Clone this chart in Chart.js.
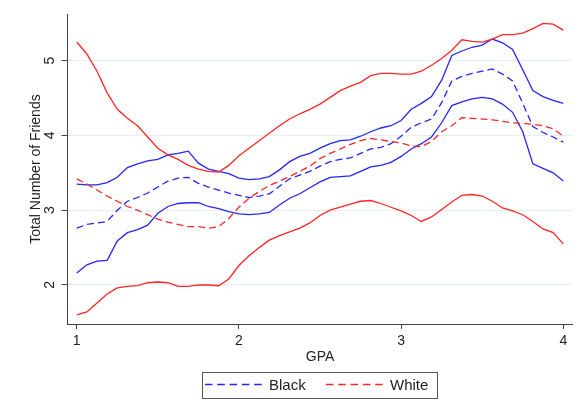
<!DOCTYPE html>
<html>
<head>
<meta charset="utf-8">
<script src="https://cdn.jsdelivr.net/npm/chart.js@4.4.1/dist/chart.umd.min.js"></script>
<style>
html,body{margin:0;padding:0;background:#fff;}
#c{display:block;}
</style>
</head>
<body>
<canvas id="c" width="582" height="416"></canvas>
<script>
// ---- data ----
const gpa = [1, 1.0625, 1.125, 1.1875, 1.25, 1.3125, 1.375, 1.4375, 1.5, 1.5625, 1.625, 1.6875, 1.75, 1.8125, 1.875, 1.9375,
  2, 2.0625, 2.125, 2.1875, 2.25, 2.3125, 2.375, 2.4375, 2.5, 2.5625, 2.625, 2.6875, 2.75, 2.8125, 2.875, 2.9375,
  3, 3.0625, 3.125, 3.1875, 3.25, 3.3125, 3.375, 3.4375, 3.5, 3.5625, 3.625, 3.6875, 3.75, 3.8125, 3.875, 3.9375, 4];

const blackMean = [2.76, 2.81, 2.83, 2.85, 3.00, 3.12, 3.17, 3.23, 3.31, 3.39, 3.43, 3.44, 3.36, 3.31, 3.27, 3.23,
  3.20, 3.17, 3.19, 3.22, 3.32, 3.42, 3.47, 3.52, 3.59, 3.65, 3.68, 3.70, 3.76, 3.82, 3.84, 3.89,
  3.99, 4.11, 4.17, 4.22, 4.44, 4.73, 4.79, 4.83, 4.86, 4.89, 4.82, 4.73, 4.43, 4.12, 4.04, 3.98, 3.91];
const blackUpper = [3.35, 3.34, 3.34, 3.37, 3.44, 3.57, 3.62, 3.66, 3.68, 3.74, 3.76, 3.79, 3.63, 3.55, 3.52, 3.49,
  3.43, 3.41, 3.42, 3.45, 3.54, 3.65, 3.72, 3.76, 3.83, 3.89, 3.93, 3.94, 3.99, 4.05, 4.10, 4.13,
  4.20, 4.35, 4.43, 4.52, 4.74, 5.07, 5.13, 5.18, 5.21, 5.29, 5.24, 5.15, 4.88, 4.60, 4.52, 4.47, 4.43];
const blackLower = [2.16, 2.27, 2.32, 2.33, 2.59, 2.70, 2.74, 2.80, 2.96, 3.05, 3.09, 3.10, 3.10, 3.05, 3.02, 2.98,
  2.95, 2.94, 2.95, 2.97, 3.07, 3.16, 3.22, 3.30, 3.38, 3.44, 3.45, 3.46, 3.52, 3.58, 3.60, 3.64,
  3.72, 3.82, 3.89, 3.98, 4.17, 4.40, 4.45, 4.49, 4.51, 4.49, 4.42, 4.31, 4.05, 3.62, 3.56, 3.50, 3.39];

const whiteMean = [3.42, 3.35, 3.27, 3.19, 3.12, 3.05, 3.00, 2.94, 2.88, 2.84, 2.81, 2.78, 2.78, 2.76, 2.78, 2.89,
  3.04, 3.16, 3.25, 3.33, 3.39, 3.45, 3.52, 3.59, 3.69, 3.76, 3.82, 3.88, 3.93, 3.96, 3.94, 3.92,
  3.90, 3.86, 3.85, 3.92, 4.05, 4.13, 4.24, 4.23, 4.22, 4.21, 4.19, 4.17, 4.16, 4.15, 4.13, 4.09, 3.99];
const whiteUpper = [5.25, 5.09, 4.86, 4.57, 4.35, 4.23, 4.13, 3.98, 3.83, 3.74, 3.68, 3.60, 3.55, 3.52, 3.51, 3.60,
  3.73, 3.83, 3.93, 4.03, 4.13, 4.22, 4.29, 4.35, 4.42, 4.51, 4.60, 4.66, 4.71, 4.80, 4.83, 4.83,
  4.82, 4.82, 4.86, 4.94, 5.03, 5.14, 5.28, 5.26, 5.25, 5.29, 5.35, 5.35, 5.37, 5.43, 5.50, 5.49, 5.41];
const whiteLower = [1.60, 1.64, 1.76, 1.88, 1.96, 1.98, 1.99, 2.03, 2.04, 2.03, 1.98, 1.98, 2.00, 2.00, 1.99, 2.08,
  2.26, 2.39, 2.50, 2.60, 2.66, 2.71, 2.76, 2.83, 2.93, 3.00, 3.04, 3.08, 3.12, 3.13, 3.09, 3.04,
  2.99, 2.93, 2.85, 2.91, 3.01, 3.11, 3.20, 3.21, 3.19, 3.12, 3.03, 2.99, 2.94, 2.85, 2.75, 2.70, 2.55];

const xTicks = [1, 2, 3, 4];
const yTicks = [2, 3, 4, 5];
const legendLabels = ["Black", "White"];
const xTitle = "GPA";
const yTitle = "Total Number of Friends";

// ---- styling ----
const BLUE = '#2525ff';
const RED = '#ff2525';
const FONT = '"Liberation Sans", Arial, sans-serif';
const pts = arr => gpa.map((x, i) => ({x: x, y: arr[i]}));
const ds = (arr, color, dashed) => ({
  data: pts(arr), borderColor: color, borderWidth: 1.3, pointRadius: 0,
  tension: 0, fill: false, borderDash: dashed ? [7, 4] : []
});

const customDraw = {
  id: 'customDraw',
  afterDraw(chart) {
    const ctx = chart.ctx;
    const ys = chart.scales.y;
    ctx.save();
    ctx.fillStyle = '#222';
    ctx.font = '14px ' + FONT;
    ctx.textAlign = 'center';
    ctx.textBaseline = 'middle';
    yTicks.forEach(v => {
      ctx.save();
      ctx.translate(50, ys.getPixelForValue(v));
      ctx.rotate(-Math.PI / 2);
      ctx.fillText(String(v), 0, 0);
      ctx.restore();
    });
    // legend box
    ctx.strokeStyle = '#555';
    ctx.lineWidth = 1;
    ctx.strokeRect(202.5, 372.5, 235, 26);
    const ly = 384.5;
    const entries = [
      {label: legendLabels[0], color: BLUE, x0: 205, x1: 262, tx: 269},
      {label: legendLabels[1], color: RED, x0: 326, x1: 383, tx: 390}
    ];
    entries.forEach(e => {
      ctx.beginPath();
      ctx.setLineDash([7.5, 4.8]);
      ctx.strokeStyle = e.color;
      ctx.lineWidth = 1.3;
      ctx.moveTo(e.x0, ly);
      ctx.lineTo(e.x1, ly);
      ctx.stroke();
      ctx.setLineDash([]);
      ctx.fillStyle = '#222';
      ctx.font = '15px ' + FONT;
      ctx.textAlign = 'left';
      ctx.textBaseline = 'middle';
      ctx.fillText(e.label, e.tx, 385.5);
    });
    ctx.restore();
  }
};

new Chart(document.getElementById('c'), {
  type: 'line',
  data: {
    datasets: [
      ds(whiteUpper, RED, false),
      ds(whiteLower, RED, false),
      ds(whiteMean, RED, true),
      ds(blackUpper, BLUE, false),
      ds(blackLower, BLUE, false),
      ds(blackMean, BLUE, true)
    ]
  },
  options: {
    responsive: false,
    animation: false,
    devicePixelRatio: 1,
    layout: {padding: {left: 0, top: 14, right: 9.3, bottom: 47}},
    plugins: {legend: {display: false}, tooltip: {enabled: false}},
    scales: {
      x: {
        type: 'linear', min: 0.943, max: 4.058,
        afterBuildTicks: s => { s.ticks = xTicks.map(v => ({value: v})); },
        afterFit: s => { s.height = 45; },
        grid: {drawOnChartArea: false, drawTicks: true, tickLength: 5, tickColor: '#444'},
        border: {color: '#444', width: 1},
        ticks: {color: '#222', font: {family: FONT, size: 14}, padding: 4, maxRotation: 0, autoSkip: false},
        title: {display: true, text: xTitle, color: '#222', font: {family: FONT, size: 14}, padding: {top: 0, bottom: 3.6}}
      },
      y: {
        type: 'linear', min: 1.478, max: 5.625,
        afterBuildTicks: s => { s.ticks = yTicks.map(v => ({value: v})); },
        afterFit: s => { s.width = 67.5; },
        grid: {color: '#e8eff1', lineWidth: 1, drawTicks: true, tickLength: 6, tickColor: '#444'},
        border: {color: '#444', width: 1},
        ticks: {display: false},
        title: {display: true, text: yTitle, color: '#222', font: {family: FONT, size: 14}, padding: {top: 27.6, bottom: 0}}
      }
    }
  },
  plugins: [customDraw]
});
</script>
</body>
</html>
